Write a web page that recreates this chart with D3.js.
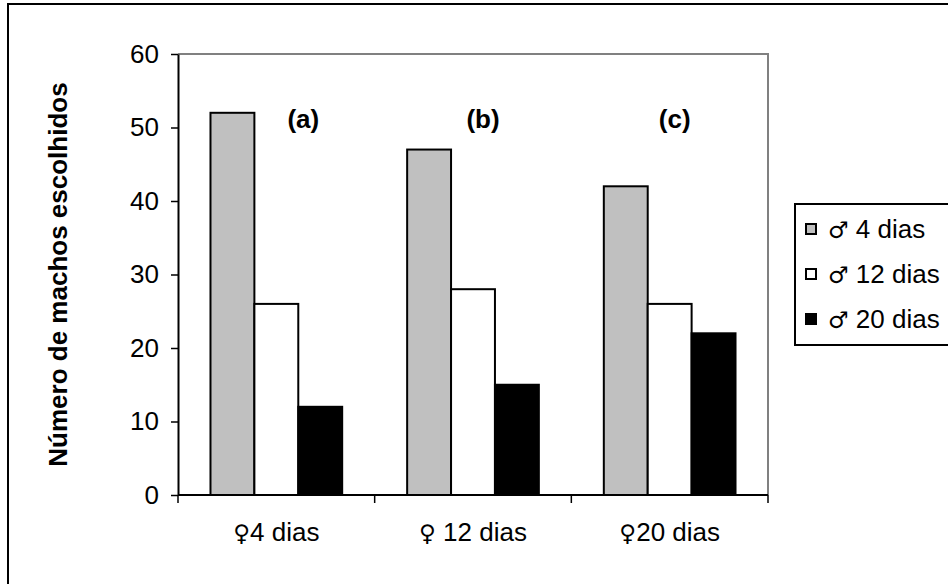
<!DOCTYPE html>
<html>
<head>
<meta charset="utf-8">
<script src="https://cdn.jsdelivr.net/npm/d3@7"></script>
<style>
  html, body { margin: 0; padding: 0; background: #fff; }
  svg { display: block; font-family: "Liberation Sans", Arial, sans-serif; }
</style>
</head>
<body>
<svg id="chart" width="948" height="584"></svg>
<script>
// ---- data ----
const categories = ["\u26404 dias", "\u2640 12 dias", "\u264020 dias"];
const seriesNames = ["\u2642 4 dias", "\u2642 12 dias", "\u2642 20 dias"];
const male4  = [52, 47, 42];
const male12 = [26, 28, 26];
const male20 = [12, 15, 22];
const yTicks = [0, 10, 20, 30, 40, 50, 60];
const annotations = ["(a)", "(b)", "(c)"];

// ---- layout ----
const seriesValues = [male4, male12, male20];
const colors = ["#c0c0c0", "#ffffff", "#000000"];
const annotDx = [27, 10, 5];
const plot = { left: 178, top: 54, right: 768, bottom: 495 };
const FS = 26;

const svg = d3.select("#chart");

// helper: write label with the gender symbol in a font that draws it full size
function symText(sel, str) {
  const sym = str[0];
  const rest = str.slice(1);
  sel.append("tspan").attr("font-family", "DejaVu Sans").attr("font-size", FS - 3).text(sym);
  sel.append("tspan").text(rest);
}

// outer chart border
svg.append("rect")
  .attr("x", 8).attr("y", 4).attr("width", 960).attr("height", 600)
  .attr("fill", "#fff").attr("stroke", "#000").attr("stroke-width", 2);

const x0 = d3.scaleBand().domain(categories).range([plot.left, plot.right]).padding(0);
const x1 = d3.scaleBand().domain(d3.range(seriesNames.length))
  .range([0, x0.bandwidth()]).paddingInner(0).paddingOuter(0.74);
const y = d3.scaleLinear().domain([0, 60]).range([plot.bottom, plot.top]);

// plot area border (gray top & right)
svg.append("path")
  .attr("d", `M${plot.left},${plot.top}H${plot.right}V${plot.bottom}`)
  .attr("fill", "none").attr("stroke", "#808080").attr("stroke-width", 2);

// bars
const g = svg.append("g");
categories.forEach((c, ci) => {
  seriesValues.forEach((vals, si) => {
    g.append("rect")
      .attr("x", x0(c) + x1(si))
      .attr("y", y(vals[ci]))
      .attr("width", x1.bandwidth())
      .attr("height", y(0) - y(vals[ci]))
      .attr("fill", colors[si])
      .attr("stroke", "#000")
      .attr("stroke-width", 2);
  });
});

// y axis
const yAxis = svg.append("g")
  .attr("transform", `translate(${plot.left},0)`)
  .call(d3.axisLeft(y).tickValues(yTicks).tickSize(7).tickPadding(12).tickSizeOuter(0));
yAxis.select(".domain").attr("stroke", "#000").attr("stroke-width", 2);
yAxis.selectAll(".tick line").attr("stroke", "#000").attr("stroke-width", 1.5);
yAxis.selectAll(".tick text").attr("font-size", FS).attr("fill", "#000")
  .attr("font-family", "Liberation Sans, Arial, sans-serif");

// x axis
const xAxis = svg.append("g")
  .attr("transform", `translate(0,${plot.bottom})`);
xAxis.append("line")
  .attr("x1", plot.left).attr("x2", plot.right)
  .attr("stroke", "#000").attr("stroke-width", 2);
const boundaries = categories.map(c => x0(c)).concat([plot.right]);
xAxis.selectAll("line.tk").data(boundaries).enter().append("line")
  .attr("class", "tk")
  .attr("x1", d => d).attr("x2", d => d).attr("y1", 0).attr("y2", 8)
  .attr("stroke", "#000").attr("stroke-width", 1.5);
xAxis.selectAll("text").data(categories).enter().append("text")
  .attr("x", d => x0(d) + x0.bandwidth() / 2)
  .attr("y", 46)
  .attr("text-anchor", "middle")
  .attr("font-size", FS)
  .each(function (d) { symText(d3.select(this), d); });

// annotations
svg.selectAll("text.annot").data(annotations).enter().append("text")
  .attr("class", "annot")
  .attr("x", (d, i) => x0(categories[i]) + x0.bandwidth() / 2 + annotDx[i])
  .attr("y", 128)
  .attr("text-anchor", "middle")
  .attr("font-size", FS)
  .attr("font-weight", "bold")
  .text(d => d);

// y title
svg.append("text")
  .attr("transform", `translate(67,${(plot.top + plot.bottom) / 2}) rotate(-90)`)
  .attr("text-anchor", "middle")
  .attr("font-size", FS)
  .attr("font-weight", "bold")
  .text("Número de machos escolhidos");

// legend
const legend = svg.append("g");
legend.append("rect")
  .attr("x", 795).attr("y", 204).attr("width", 170).attr("height", 141)
  .attr("fill", "#fff").attr("stroke", "#000").attr("stroke-width", 2);
seriesNames.forEach((name, i) => {
  const cy = 229 + i * 45;
  legend.append("rect")
    .attr("x", 806).attr("y", cy - 5).attr("width", 10).attr("height", 10)
    .attr("fill", colors[i]).attr("stroke", "#000").attr("stroke-width", 2);
  const t = legend.append("text")
    .attr("x", 828).attr("y", cy + 9)
    .attr("font-size", FS);
  symText(t, name);
});
</script>
</body>
</html>
